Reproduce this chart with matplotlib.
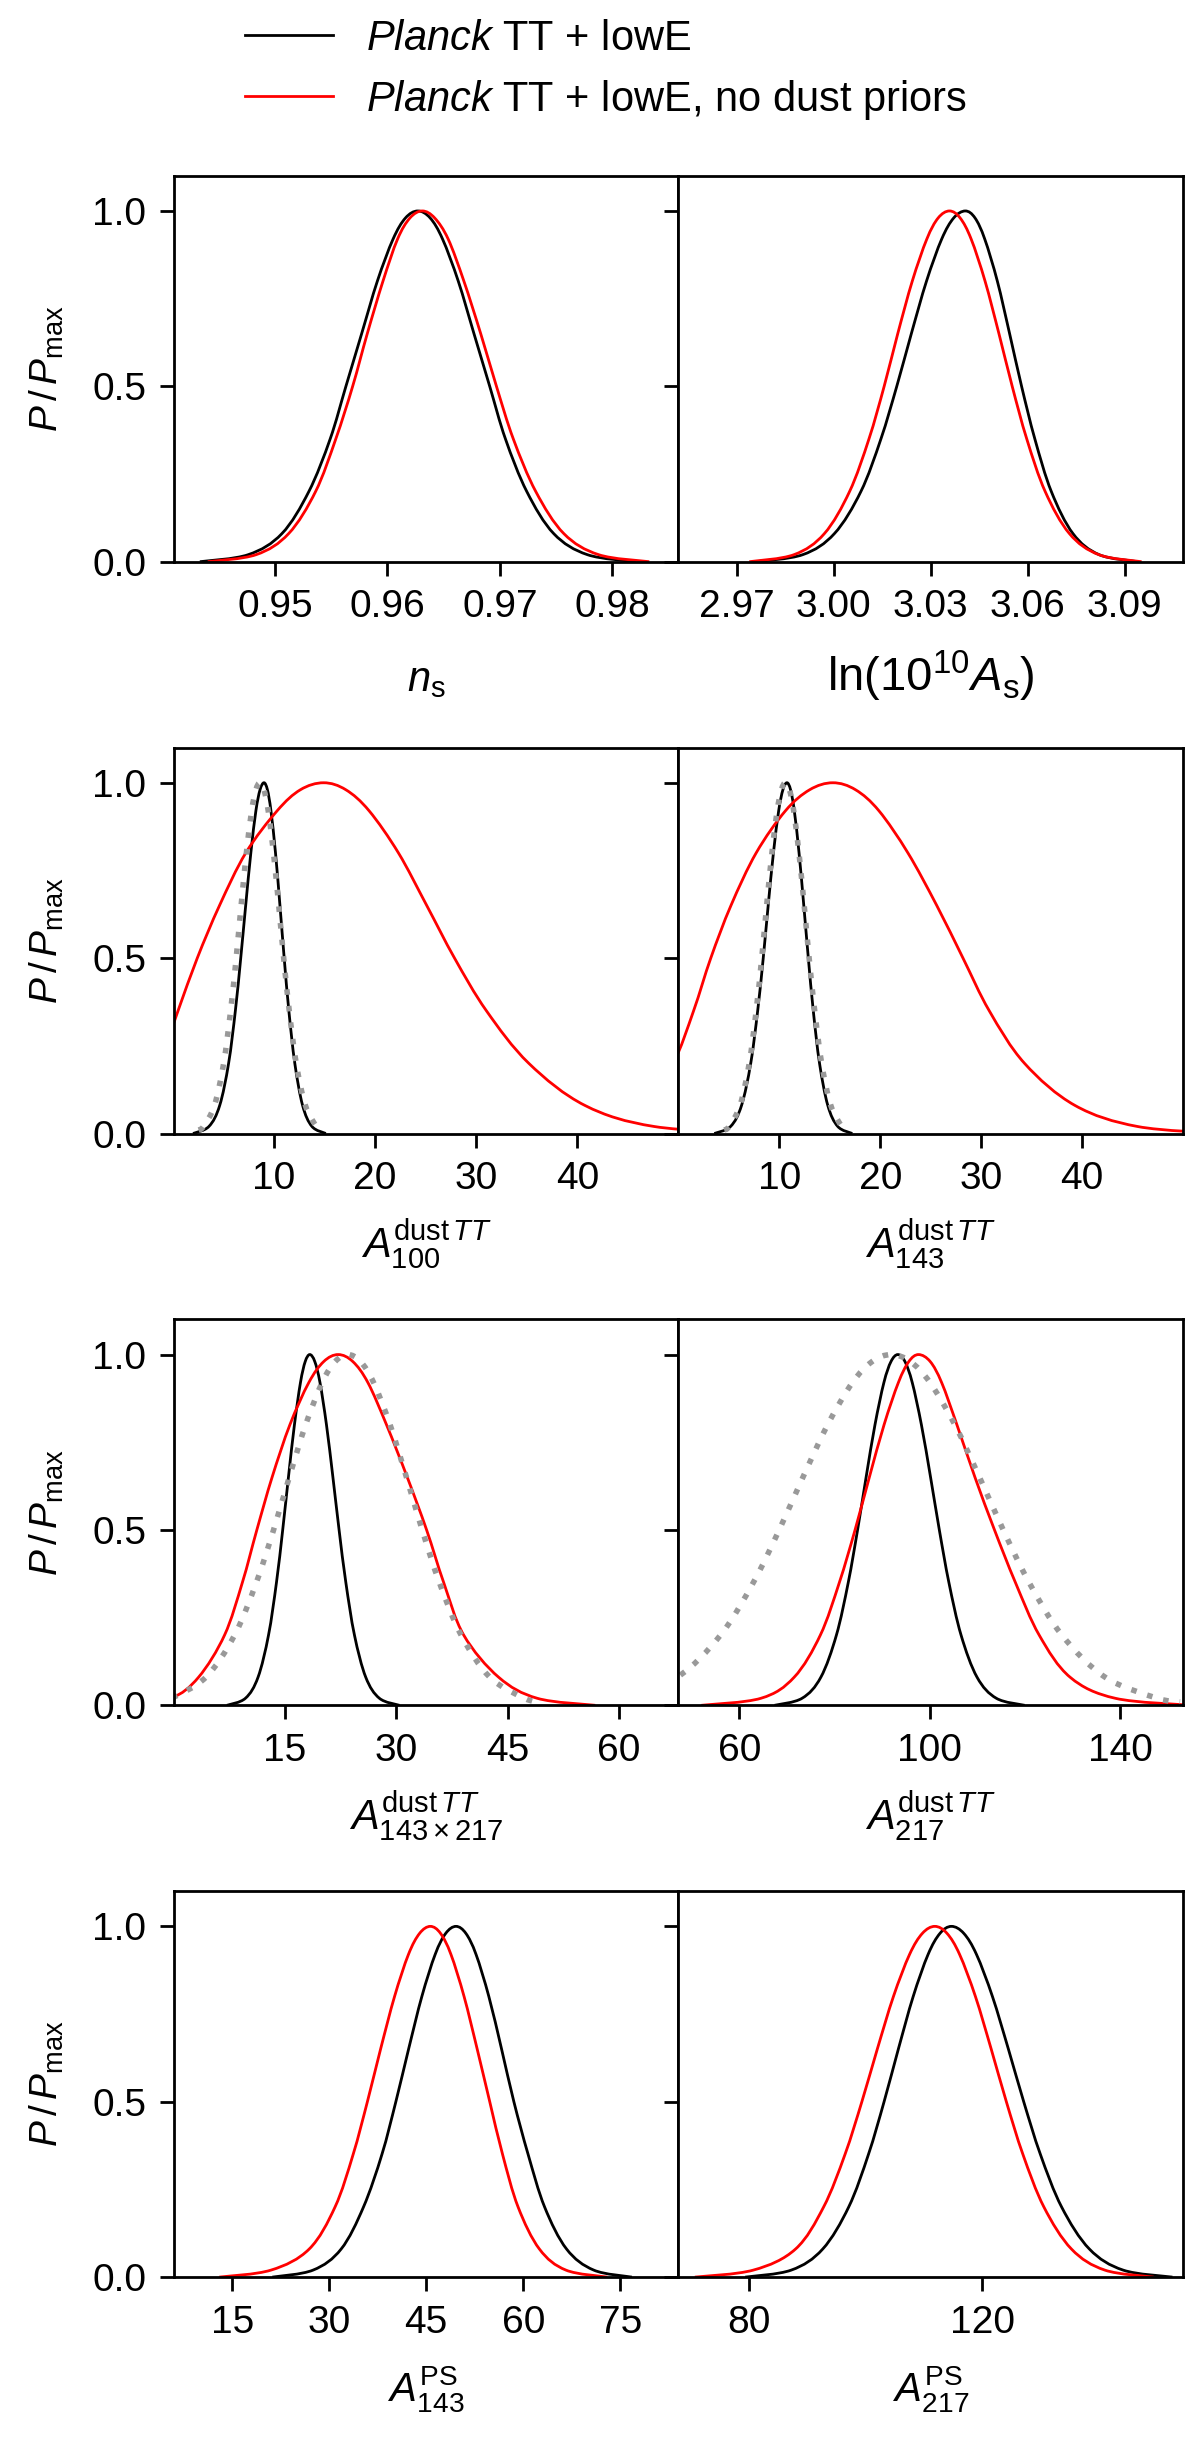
import numpy as np
import matplotlib.pyplot as plt
from matplotlib.lines import Line2D
from matplotlib.path import Path
from matplotlib.patches import PathPatch

plt.rcParams["font.family"] = ["Liberation Sans", "DejaVu Sans"]
plt.rcParams["mathtext.fontset"] = "custom"
plt.rcParams["mathtext.rm"] = "Liberation Sans"
plt.rcParams["mathtext.it"] = "Liberation Sans:italic"
plt.rcParams["mathtext.bf"] = "Liberation Sans:bold"

LEVELS = [0.0, 0.02, 0.08, 0.2, 0.35, 0.5, 0.65, 0.8, 0.92, 0.98, 1.0]
PROFILE = LEVELS + LEVELS[-2::-1]
PRIOR_PROFILE = [0.01] + LEVELS[1:] + LEVELS[-2:0:-1] + [0.01]

# x positions of each curve at the heights in PROFILE
NS_BASE = [0.9433, 0.9476, 0.9506, 0.9530, 0.9549, 0.9563, 0.9577, 0.9591, 0.9605, 0.9616, 0.9627,
           0.9638, 0.9649, 0.9663, 0.9677, 0.9691, 0.9705, 0.9724, 0.9748, 0.9778, 0.9821]
NS_NODUST = [0.9440, 0.9483, 0.9512, 0.9536, 0.9554, 0.9569, 0.9582, 0.9596, 0.9609, 0.9620, 0.9631,
             0.9642, 0.9654, 0.9668, 0.9683, 0.9697, 0.9712, 0.9732, 0.9757, 0.9788, 0.9833]

LNAS_BASE = [2.9759, 2.9904, 3.0002, 3.0084, 3.0146, 3.0195, 3.0240, 3.0287, 3.0334, 3.0371, 3.0407,
             3.0437, 3.0467, 3.0506, 3.0544, 3.0581, 3.0622, 3.0673, 3.0740, 3.0821, 3.0940]
LNAS_NODUST = [2.9739, 2.9877, 2.9971, 3.0049, 3.0109, 3.0156, 3.0198, 3.0243, 3.0288, 3.0323, 3.0358,
               3.0391, 3.0425, 3.0468, 3.0511, 3.0552, 3.0597, 3.0654, 3.0729, 3.0820, 3.0952]

A100_BASE = [1.98, 3.55, 4.62, 5.50, 6.17, 6.70, 7.19, 7.70, 8.20, 8.61, 9.0,
             9.34, 9.69, 10.14, 10.58, 11.00, 11.46, 12.05, 12.82, 13.75, 15.12]
A100_NODUST = [-14, -8, -4, -1.4, 0.5, 2.4, 4.6, 7.2, 10.3, 12.6, 14.9,
               17.1, 19.4, 22.3, 25.1, 27.85, 31.0, 35.2, 40.75, 47.6, 58.0]
A100_PRIOR = [2.53, 3.01, 4.10, 5.01, 5.70, 6.25, 6.74, 7.26, 7.78, 8.20, 8.6,
              9.00, 9.42, 9.94, 10.46, 10.95, 11.50, 12.19, 13.10, 14.19, 14.67]

A143_BASE = [3.55, 5.16, 6.25, 7.16, 7.85, 8.40, 8.89, 9.41, 9.93, 10.35, 10.75,
             11.11, 11.48, 11.95, 12.42, 12.87, 13.36, 13.98, 14.80, 15.79, 17.23]
A143_NODUST = [-10, -6.2, -3.2, -0.5, 1.5, 3.2, 5.2, 7.7, 10.6, 13.0, 15.3,
               17.55, 19.87, 22.74, 25.6, 28.2, 30.8, 34.3, 39.3, 45.5, 54.0]
A143_PRIOR = [4.53, 5.01, 6.10, 7.01, 7.70, 8.25, 8.74, 9.26, 9.78, 10.20, 10.6,
              11.00, 11.42, 11.94, 12.46, 12.95, 13.50, 14.19, 15.10, 16.19, 16.67]

A143X217_BASE = [7.22, 9.71, 11.41, 12.82, 13.89, 14.73, 15.50, 16.31, 17.12, 17.76, 18.38,
                 19.05, 19.75, 20.62, 21.49, 22.32, 23.23, 24.39, 25.91, 27.75, 30.44]
A143X217_NODUST = [-6, -0.3, 3.4, 6.9, 9.3, 11.25, 13.3, 15.7, 18.24, 20.25, 22.2,
                   24.17, 26.2, 28.7, 31.5, 34.1, 36.4, 39.1, 43.8, 49.0, 56.8]
A143X217_PRIOR = [-2.3, -0.27, 4.39, 8.25, 11.18, 13.50, 15.61, 17.82, 20.03, 21.79, 23.5,
                  25.21, 26.97, 29.18, 31.39, 33.50, 35.82, 38.75, 42.61, 47.27, 49.3]

A217_BASE = [67.38, 73.16, 77.11, 80.38, 82.87, 84.83, 86.62, 88.49, 90.36, 91.85, 93.3,
             94.79, 96.32, 98.24, 100.17, 102.01, 104.02, 106.58, 109.94, 114.0, 119.94]
A217_NODUST = [52.0, 64.5, 71.5, 77.0, 81.0, 84.3, 87.3, 90.4, 93.4, 95.6, 97.65,
               100.1, 102.5, 105.7, 109.5, 113.6, 118.0, 123.0, 129.5, 139.0, 155.0]
A217_PRIOR = [31.2, 35.96, 46.94, 56.02, 62.92, 68.36, 73.34, 78.54, 83.74, 87.88, 91.9,
              95.92, 100.06, 105.26, 110.46, 115.44, 120.88, 127.78, 136.86, 147.84, 152.6]

APS143_BASE = [21.2, 27.5, 31.84, 35.3, 38.15, 40.3, 42.27, 44.32, 46.38, 48.01, 49.6,
               51.13, 52.7, 54.68, 56.65, 58.55, 60.75, 63.3, 66.7, 70.9, 76.8]
APS143_NODUST = [13.0, 21.0, 26.9, 30.9, 33.7, 35.9, 37.94, 40.10, 42.25, 43.97, 45.64,
                 47.21, 48.82, 50.85, 52.88, 54.82, 56.8, 59.2, 62.5, 66.6, 73.0]

APS217_BASE = [79.42, 87.29, 92.67, 97.12, 100.5, 103.17, 105.61, 108.15, 110.70, 112.73, 114.7,
               116.81, 118.98, 121.71, 124.44, 127.06, 129.91, 133.54, 138.3, 144.07, 152.5]
APS217_NODUST = [70.8, 80.8, 88.02, 92.83, 96.49, 99.37, 102.01, 104.77, 107.53, 109.72, 111.85,
                 113.94, 116.09, 118.8, 121.5, 124.09, 126.92, 130.51, 135.23, 140.94, 149.29]

XLABELS = [r"$n_{\rm s}$", r"$\ln(10^{10}A_{\rm s})$",
           r"$A^{{\rm dust}\,TT}_{100}$", r"$A^{{\rm dust}\,TT}_{143}$",
           r"$A^{{\rm dust}\,TT}_{143\times217}$", r"$A^{{\rm dust}\,TT}_{217}$",
           r"$A^{\rm PS}_{143}$", r"$A^{\rm PS}_{217}$"]
XLABEL_SIZES = [15, 17, 15, 15, 15, 15, 14.5, 14.5]
XLIMS = [(0.941, 0.9859), (2.952, 3.108), (0.1, 50), (0, 50),
         (0.1, 68), (47.2, 153.2), (6, 84), (68, 154.3)]
XTICKS = [[0.95, 0.96, 0.97, 0.98], [2.97, 3.00, 3.03, 3.06, 3.09],
          [10, 20, 30, 40], [10, 20, 30, 40], [15, 30, 45, 60], [60, 100, 140],
          [15, 30, 45, 60, 75], [80, 120]]
XTICKLABELS = [["0.95", "0.96", "0.97", "0.98"], ["2.97", "3.00", "3.03", "3.06", "3.09"],
               ["10", "20", "30", "40"], ["10", "20", "30", "40"], ["15", "30", "45", "60"],
               ["60", "100", "140"], ["15", "30", "45", "60", "75"], ["80", "120"]]
YTICKS = [0.0, 0.5, 1.0]
YTICKLABELS = ["0.0", "0.5", "1.0"]
LEGEND_LABELS = [r"$\mathit{Planck}$ TT + lowE", r"$\mathit{Planck}$ TT + lowE, no dust priors"]

BASE = [NS_BASE, LNAS_BASE, A100_BASE, A143_BASE, A143X217_BASE, A217_BASE, APS143_BASE, APS217_BASE]
NODUST = [NS_NODUST, LNAS_NODUST, A100_NODUST, A143_NODUST, A143X217_NODUST, A217_NODUST,
          APS143_NODUST, APS217_NODUST]
PRIORS = [None, None, A100_PRIOR, A143_PRIOR, A143X217_PRIOR, A217_PRIOR, None, None]


def smooth_curve(xs, ys, **kw):
    # draw the read-off points joined by a Catmull-Rom style bezier path
    pts = np.column_stack([xs, ys]).astype(float)
    n = len(pts)
    verts = [pts[0]]
    codes = [Path.MOVETO]
    for i in range(n - 1):
        p0 = pts[i - 1] if i > 0 else pts[i]
        p1, p2 = pts[i], pts[i + 1]
        p3 = pts[i + 2] if i + 2 < n else pts[i + 1]
        verts += [p1 + (p2 - p0) / 6, p2 - (p3 - p1) / 6, p2]
        codes += [Path.CURVE4] * 3
    return PathPatch(Path(verts, codes), fill=False, **kw)


fig = plt.figure(figsize=(6, 12.265), dpi=200)
gs = fig.add_gridspec(4, 2, left=0.145, right=0.9858, top=0.9283, bottom=0.0717,
                      hspace=0.482, wspace=0)

for i in range(8):
    ax = fig.add_subplot(gs[i // 2, i % 2])
    ax.add_patch(smooth_curve(BASE[i], PROFILE, edgecolor="black", lw=1.0))
    ax.add_patch(smooth_curve(NODUST[i], PROFILE, edgecolor="red", lw=1.0))
    if PRIORS[i] is not None:
        ax.add_patch(smooth_curve(PRIORS[i], PRIOR_PROFILE, edgecolor="#999999", lw=2.0,
                                  linestyle=(0, (1, 2))))

    ax.set_xlim(*XLIMS[i])
    ax.set_ylim(0, 1.1)
    ax.set_xticks(XTICKS[i], labels=XTICKLABELS[i])
    ax.set_yticks(YTICKS)
    ax.tick_params(direction="out", length=5, width=1.0, labelsize=14, pad=5)
    for s in ax.spines.values():
        s.set_linewidth(1.0)

    ax.set_xlabel(XLABELS[i], fontsize=XLABEL_SIZES[i])
    ax.xaxis.label.set_verticalalignment("baseline")
    ax.xaxis.set_label_coords(0.5, -0.335 if i < 2 else -0.32)

    if i % 2 == 0:
        ax.set_yticklabels(YTICKLABELS)
        ax.set_ylabel(r"$P\,/\,P_{\rm max}$", fontsize=14)
        ax.yaxis.set_label_coords(-0.215, 0.5)
    else:
        ax.set_yticklabels([])

handles = [Line2D([], [], color="black", lw=1.0), Line2D([], [], color="red", lw=1.0)]
fig.legend(handles, LEGEND_LABELS, loc="upper left", bbox_to_anchor=(245 / 1200, 1 - 19 / 2453),
           frameon=False, fontsize=15, handlelength=2.1, handletextpad=0.8,
           borderpad=0, borderaxespad=0, labelspacing=0.45)

fig.savefig("out.png", dpi=200)
